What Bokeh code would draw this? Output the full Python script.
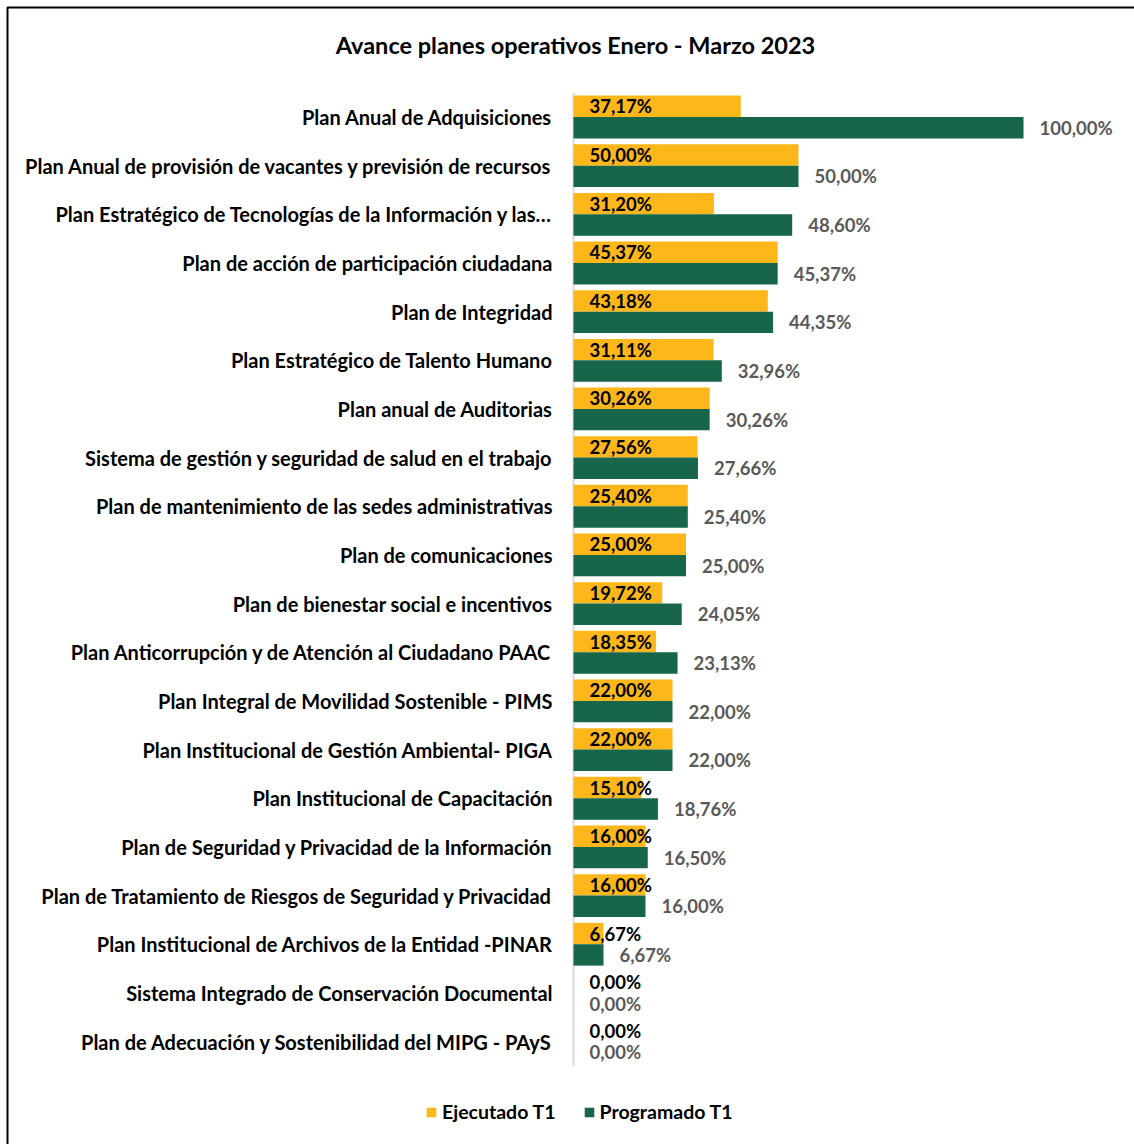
from bokeh.plotting import figure
from bokeh.models import ColumnDataSource, Range1d, Label, Legend, LegendItem, BoxAnnotation
from bokeh.transform import dodge
from bokeh.core.properties import value
from bokeh.embed import file_html
from bokeh.resources import INLINE

categories = [
    "Plan Anual de Adquisiciones",
    "Plan Anual de provisión de vacantes y previsión de recursos",
    "Plan Estratégico de Tecnologías de la Información y las…",
    "Plan de acción de participación ciudadana",
    "Plan de Integridad",
    "Plan Estratégico de Talento Humano",
    "Plan anual de Auditorias",
    "Sistema de gestión y seguridad de salud en el trabajo",
    "Plan de mantenimiento de las sedes administrativas",
    "Plan de comunicaciones",
    "Plan de bienestar social e incentivos",
    "Plan Anticorrupción y de Atención al Ciudadano PAAC",
    "Plan Integral de Movilidad Sostenible - PIMS",
    "Plan Institucional de Gestión Ambiental- PIGA",
    "Plan Institucional de Capacitación",
    "Plan de Seguridad y Privacidad de la Información",
    "Plan de Tratamiento de Riesgos de Seguridad y Privacidad",
    "Plan Institucional de Archivos de la Entidad -PINAR",
    "Sistema Integrado de Conservación Documental",
    "Plan de Adecuación y Sostenibilidad del MIPG - PAyS",
]
ejecutado = [37.17, 50.00, 31.20, 45.37, 43.18, 31.11, 30.26, 27.56, 25.40, 25.00,
             19.72, 18.35, 22.00, 22.00, 15.10, 16.00, 16.00, 6.67, 0.00, 0.00]
programado = [100.00, 50.00, 48.60, 45.37, 44.35, 32.96, 30.26, 27.66, 25.40, 25.00,
              24.05, 23.13, 22.00, 22.00, 18.76, 16.50, 16.00, 6.67, 0.00, 0.00]
series_names = ["Ejecutado T1", "Programado T1"]
title_text = "Avance planes operativos Enero - Marzo 2023"

ORANGE = "#FDB71A"
GREEN = "#17664A"
FONT = "Lato"


def fmt(v):
    return f"{v:.2f}".replace(".", ",") + "%"


n = len(categories)
source = ColumnDataSource(dict(
    pos=list(range(n)),
    cat=categories,
    ej=ejecutado,
    pr=programado,
    ej_lbl=[fmt(v) for v in ejecutado],
    pr_lbl=[fmt(v) for v in programado],
))

W, H = 1134, 1144
ZERO_X = 573          # pixel of 0 %
PX_PER_UNIT = 4.5     # pixels per 1 %
ROW = 48.66           # pixels per category
TOP_ROW = 116.5       # pixel centre of first category

p = figure(
    width=W, height=H,
    x_range=Range1d(-ZERO_X / PX_PER_UNIT, (W - ZERO_X) / PX_PER_UNIT),
    y_range=Range1d((H - TOP_ROW) / ROW, -TOP_ROW / ROW),
    output_backend="svg", toolbar_location=None, title=None,
    min_border=0, min_border_left=0, min_border_right=0, min_border_top=0, min_border_bottom=0,
)
p.outline_line_color = None
p.background_fill_color = "white"
p.border_fill_color = "white"
p.xgrid.visible = False
p.ygrid.visible = False
p.xaxis.visible = False
p.yaxis.visible = False

# vertical category axis line
p.segment(x0=0, y0=-0.5, x1=0, y1=n - 0.5, line_color="#D9D9D9", line_width=2)

# category labels
p.text(x=0, y="pos", text="cat", source=source, x_offset=-21,
       text_align="right", text_baseline="middle",
       text_font=value(FONT), text_font_style="bold", text_font_size="20px", text_color="black")

bh = 0.44
r_ej = p.hbar(y=dodge("pos", -0.22), right="ej", left=0, height=bh,
              color=ORANGE, line_color=None, source=source)
r_pr = p.hbar(y=dodge("pos", 0.22), right="pr", left=0, height=bh,
              color=GREEN, line_color=None, source=source)

p.text(x=0, y=dodge("pos", -0.22), text="ej_lbl", source=source,
       x_offset=16, text_align="left", text_baseline="middle",
       text_font=value(FONT), text_font_style="bold", text_font_size="18.5px", text_color="black")
p.text(x="pr", y=dodge("pos", 0.22), text="pr_lbl", source=source,
       x_offset=16, text_align="left", text_baseline="middle",
       text_font=value(FONT), text_font_style="bold", text_font_size="18.5px", text_color="#595959")

p.add_layout(Label(x=575, y=H - 44, x_units="screen", y_units="screen",
                   text=title_text, text_align="center", text_baseline="middle",
                   text_font=FONT, text_font_style="bold", text_font_size="23.5px", text_color="black"))

legend = Legend(
    items=[LegendItem(label=series_names[0], renderers=[r_ej]),
           LegendItem(label=series_names[1], renderers=[r_pr])],
    location=(425, 21), orientation="horizontal",
    glyph_width=12, glyph_height=12, label_standoff=5, spacing=27, padding=0, margin=0,
    label_height=20,
    border_line_color=None, background_fill_alpha=0,
    label_text_font=FONT, label_text_font_style="bold", label_text_font_size="19.5px",
    label_text_color="black",
)
p.add_layout(legend, "center")

p.add_layout(BoxAnnotation(left=7, top=7, right=1300, bottom=1300,
                           left_units="canvas", top_units="canvas",
                           right_units="canvas", bottom_units="canvas",
                           fill_alpha=0, line_color="black", line_alpha=1.0,
                           line_width=2, level="overlay"))

open("out.html", "w").write(file_html(p, INLINE))
